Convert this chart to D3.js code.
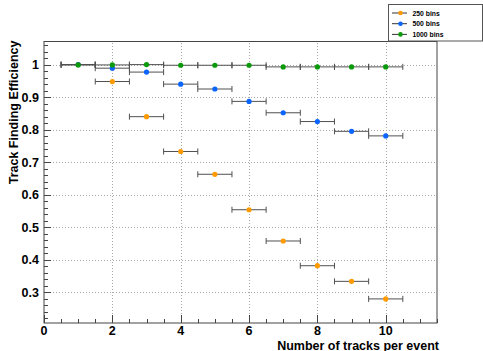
<!DOCTYPE html>
<html>
<head>
<meta charset="utf-8">
<script src="https://cdn.jsdelivr.net/npm/d3@7"></script>
<style>
  body { margin: 0; background: #fff; }
  svg { display: block; font-family: "Liberation Sans", Arial, sans-serif; }
</style>
</head>
<body>
<div id="chart"></div>
<script>
// tracks per event (bin centres), bin half width 0.5
const tracks = [1, 2, 3, 4, 5, 6, 7, 8, 9, 10];
const eff250 = [1.0, 0.948, 0.840, 0.733, 0.663, 0.554, 0.458, 0.382, 0.334, 0.280];
const eff500 = [1.0, 0.989, 0.977, 0.940, 0.925, 0.887, 0.852, 0.825, 0.795, 0.781];
const eff1000 = [0.999, 0.999, 1.0, 0.998, 0.998, 0.998, 0.993, 0.993, 0.993, 0.993];
const seriesNames = ["250 bins", "500 bins", "1000 bins"];
const seriesColors = ["#ff9a00", "#0a64ff", "#0a9a0a"];
const xTicks = [0, 2, 4, 6, 8, 10];
const yTicks = [0.3, 0.4, 0.5, 0.6, 0.7, 0.8, 0.9, 1];

const width = 483, height = 351;
const margin = {top: 41.5, right: 46, bottom: 28, left: 44};

const svg = d3.select("#chart").append("svg")
  .attr("width", width).attr("height", height);

const x = d3.scaleLinear().domain([0, 11.5]).range([margin.left, width - margin.right]);
const y = d3.scaleLinear().domain([0.206, 1.071]).range([height - margin.bottom, margin.top]);

// grid
const grid = svg.append("g").attr("stroke", "#a8a8a8").attr("stroke-dasharray", "1,2");
grid.selectAll(".gx").data(xTicks.filter(d => d > 0)).enter().append("line")
  .attr("x1", d => Math.round(x(d)) + 0.5).attr("x2", d => Math.round(x(d)) + 0.5)
  .attr("y1", y.range()[0]).attr("y2", y.range()[1]);
grid.selectAll(".gy").data(yTicks).enter().append("line")
  .attr("y1", d => Math.round(y(d)) + 0.5).attr("y2", d => Math.round(y(d)) + 0.5)
  .attr("x1", x.range()[0]).attr("x2", x.range()[1]);

// minor + major ticks (inward)
const axisColor = "#444";
const xMinor = d3.range(0, 11.51, 0.5);
svg.append("g").selectAll("line").data(xMinor).enter().append("line")
  .attr("x1", d => Math.round(x(d)) + 0.5).attr("x2", d => Math.round(x(d)) + 0.5)
  .attr("y1", y.range()[0])
  .attr("y2", d => y.range()[0] - (d % 2 === 0 ? 8 : 4))
  .attr("stroke", axisColor);
const yMinor = d3.range(0.22, 1.071, 0.02);
svg.append("g").selectAll("line").data(yMinor).enter().append("line")
  .attr("y1", d => Math.round(y(d)) + 0.5).attr("y2", d => Math.round(y(d)) + 0.5)
  .attr("x1", x.range()[0])
  .attr("x2", d => x.range()[0] + (Math.abs(Math.round(d * 10) - d * 10) < 1e-6 ? 7 : 4))
  .attr("stroke", axisColor);

// frame
svg.append("rect")
  .attr("x", x.range()[0]).attr("y", y.range()[1])
  .attr("width", x.range()[1] - x.range()[0]).attr("height", y.range()[0] - y.range()[1])
  .attr("fill", "none").attr("stroke", axisColor);

// tick labels
svg.append("g").selectAll("text").data(xTicks).enter().append("text")
  .attr("x", d => x(d)).attr("y", 335)
  .attr("text-anchor", "middle").attr("font-size", 12.5).attr("font-weight", "bold")
  .text(d => d);
svg.append("g").selectAll("text").data(yTicks).enter().append("text")
  .attr("x", 39).attr("y", d => y(d) + 4.5)
  .attr("text-anchor", "end").attr("font-size", 12.5).attr("font-weight", "bold")
  .text(d => d);

// axis titles
svg.append("text")
  .attr("x", x.range()[1] + 2).attr("y", 349.5)
  .attr("text-anchor", "end").attr("font-size", 12.5).attr("font-weight", "bold")
  .text("Number of tracks per event");
svg.append("text")
  .attr("transform", "translate(18," + (margin.top - 1) + ") rotate(-90)")
  .attr("text-anchor", "end").attr("font-size", 12.5).attr("font-weight", "bold")
  .text("Track Finding Efficiency");

// data
const allSeries = [eff250, eff500, eff1000];
allSeries.forEach((vals, si) => {
  const pts = tracks.map((t, i) => ({x: t, y: vals[i]}));
  const g = svg.append("g");
  const eb = g.append("g").attr("stroke", "#505050");
  eb.selectAll(".h").data(pts).enter().append("line")
    .attr("x1", d => x(d.x - 0.5)).attr("x2", d => x(d.x + 0.5))
    .attr("y1", d => y(d.y)).attr("y2", d => y(d.y));
  eb.selectAll(".cl").data(pts).enter().append("line")
    .attr("x1", d => x(d.x - 0.5)).attr("x2", d => x(d.x - 0.5))
    .attr("y1", d => y(d.y) - 3).attr("y2", d => y(d.y) + 3);
  eb.selectAll(".cr").data(pts).enter().append("line")
    .attr("x1", d => x(d.x + 0.5)).attr("x2", d => x(d.x + 0.5))
    .attr("y1", d => y(d.y) - 3).attr("y2", d => y(d.y) + 3);
  g.selectAll("circle").data(pts).enter().append("circle")
    .attr("cx", d => x(d.x)).attr("cy", d => y(d.y)).attr("r", 2.6)
    .attr("fill", seriesColors[si]);
});

// legend
const leg = svg.append("g");
leg.append("rect").attr("x", 388.5).attr("y", 4.5).attr("width", 94).attr("height", 36.5)
  .attr("fill", "#fff").attr("stroke", "#555");
const rows = leg.selectAll(".row").data(seriesNames).enter().append("g")
  .attr("transform", (d, i) => "translate(0," + (13 + i * 10.7) + ")");
rows.append("line").attr("x1", 392).attr("x2", 407).attr("y1", 0).attr("y2", 0)
  .attr("stroke", "#333");
rows.append("circle").attr("cx", 400.5).attr("cy", 0).attr("r", 2.3)
  .attr("fill", (d, i) => seriesColors[i]);
rows.append("text").attr("x", 412.5).attr("y", 2.5)
  .attr("font-size", 6.8).attr("font-weight", "bold").text(d => d);
</script>
</body>
</html>
